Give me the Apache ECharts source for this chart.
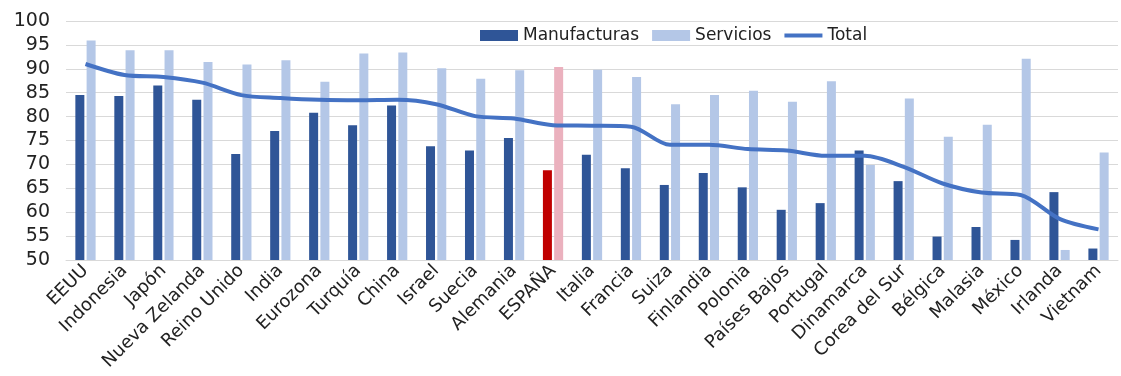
<!DOCTYPE html>
<html>
<head>
<meta charset="utf-8">
<script src="https://cdn.jsdelivr.net/npm/echarts@6/dist/echarts.min.js"></script>
<style>
    html, body { margin: 0; padding: 0; background: #fff; }
    #chart { width: 1121px; height: 376px; }
</style>
</head>
<body>
<div id="chart"></div>
<script>
// datos
var paises = [ 'EEUU', 'Indonesia', 'Japón', 'Nueva Zelanda', 'Reino Unido', 'India', 'Eurozona', 'Turquía', 'China',
    'Israel', 'Suecia', 'Alemania', 'ESPAÑA', 'Italia', 'Francia', 'Suiza', 'Finlandia', 'Polonia', 'Países Bajos',
    'Portugal', 'Dinamarca', 'Corea del Sur', 'Bélgica', 'Malasia', 'México', 'Irlanda', 'Vietnam' ];
var manufacturas = [ 84.5, 84.3, 86.5, 83.5, 72.2, 77.0, 80.8, 78.2, 82.3, 73.8, 72.9, 75.5, 68.8, 72.0, 69.2, 65.7,
    68.2, 65.2, 60.5, 61.9, 72.9, 66.5, 54.9, 56.9, 54.2, 64.2, 52.4 ];
var servicios = [ 95.9, 93.9, 93.9, 91.4, 90.9, 91.8, 87.3, 93.2, 93.4, 90.1, 87.9, 89.7, 90.4, 89.8, 88.3, 82.6,
    84.5, 85.4, 83.1, 87.4, 69.9, 83.8, 75.8, 78.3, 92.1, 52.1, 72.5 ];
var total = [ 91.0, 88.7, 88.3, 87.1, 84.5, 83.9, 83.5, 83.4, 83.5, 82.6, 80.1, 79.6, 78.2, 78.1, 77.9, 74.1,
    74.1, 73.2, 72.9, 71.8, 71.8, 69.5, 66.0, 64.1, 63.6, 58.6, 56.4 ];
var destacado = 'ESPAÑA';

var fuente = 'DejaVu Sans';

function conDestacado( valores, color ) {
    return valores.map( function( v, i ) {
        if( paises[ i ] === destacado ) {
            return { value: v, itemStyle: { color: color } };
        }
        return v;
    } );
}

var myChart = echarts.init( document.getElementById( 'chart' ) ),
    option = {
        animation: false,
        color: [ '#2F5597', '#B4C7E7', '#4472C4' ],
        legend: {
            top: 22,
            left: 475,
            itemWidth: 38,
            itemHeight: 11,
            itemGap: 13,
            textStyle: {
                fontFamily: fuente,
                fontSize: 17,
                color: '#222'
            },
            data: [
                { name: 'Manufacturas', icon: 'rect' },
                { name: 'Servicios', icon: 'rect' },
                { name: 'Total', icon: 'path://M0,0L38,0L38,4L0,4Z' }
            ]
        },
        grid: {
            left: 66,
            right: 3,
            top: 21,
            bottom: 116
        },
        xAxis: {
            type: 'category',
            data: paises,
            axisLine: { show: true, lineStyle: { color: '#d9d9d9', width: 1 } },
            axisTick: { show: false },
            axisLabel: {
                interval: 0,
                rotate: 45,
                margin: 8,
                fontFamily: fuente,
                fontSize: 18,
                color: '#222'
            }
        },
        yAxis: {
            type: 'value',
            min: 50,
            max: 100,
            interval: 5,
            axisLine: { show: false },
            axisTick: { show: false },
            splitLine: { lineStyle: { color: '#d9d9d9', width: 1 } },
            axisLabel: {
                margin: 16,
                fontFamily: fuente,
                fontSize: 19,
                color: '#222'
            }
        },
        series: [
            {
                name: 'Manufacturas',
                type: 'bar',
                barWidth: 9,
                barGap: '25%',
                data: conDestacado( manufacturas, '#C00000' )
            },
            {
                name: 'Servicios',
                type: 'bar',
                barWidth: 9,
                data: conDestacado( servicios, '#EBB1BE' )
            },
            {
                name: 'Total',
                type: 'line',
                smooth: 0.3,
                symbol: 'none',
                lineStyle: { width: 4, color: '#4472C4' },
                data: total
            }
        ]
    };
myChart.setOption( option );
</script>
</body>
</html>
